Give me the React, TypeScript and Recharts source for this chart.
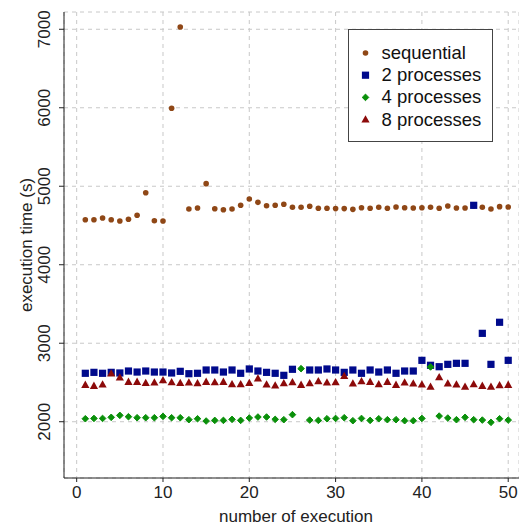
import React from "react";
import { ScatterChart, Scatter, XAxis, YAxis, CartesianGrid } from "recharts";

const runs = [
  1, 2, 3, 4, 5, 6, 7, 8, 9, 10, 11, 12, 13, 14, 15, 16, 17, 18, 19, 20, 21, 22, 23, 24, 25,
  26, 27, 28, 29, 30, 31, 32, 33, 34, 35, 36, 37, 38, 39, 40, 41, 42, 43, 44, 45, 46, 47, 48, 49, 50,
];

const sequential = [
  4574, 4574, 4596, 4574, 4557, 4579, 4630, 4918, 4561, 4557,
  5993, 7029, 4710, 4723, 5033, 4714, 4701, 4710, 4757, 4838,
  4795, 4752, 4757, 4770, 4732, 4732, 4745, 4719, 4719, 4715,
  4715, 4706, 4727, 4719, 4732, 4719, 4736, 4727, 4723, 4727,
  4732, 4719, 4749, 4723, 4723, 4750, 4732, 4710, 4740, 4736,
];

const twoProcesses = [
  2617, 2629, 2617, 2629, 2621, 2646, 2633, 2646, 2633, 2633,
  2621, 2642, 2612, 2617, 2659, 2659, 2633, 2659, 2617, 2672,
  2646, 2629, 2617, 2591, 2668, null, 2659, 2659, 2672, 2659,
  2629, 2659, 2617, 2659, 2633, 2659, 2617, 2646, 2646, 2782,
  2719, 2701, 2731, 2744, 2744, 4757, 3126, 2731, 3267, 2782,
];

const fourProcesses = [
  2038, 2042, 2042, 2056, 2081, 2064, 2051, 2051, 2051, 2068,
  2051, 2051, 2026, 2038, 2009, 2017, 2017, 2030, 2017, 2047,
  2060, 2060, 2030, 2026, 2090, 2676, 2021, 2017, 2038, 2042,
  2051, 2013, 2042, 2017, 2038, 2026, 2026, 2013, 2013, 2042,
  2698, 2072, 2047, 2026, 2056, 2026, 2021, 1992, 2038, 2021,
];

const eightProcesses = [
  2468, 2455, 2472, 2612, 2561, 2506, 2506, 2493, 2497, 2527,
  2502, 2493, 2497, 2489, 2506, 2502, 2506, 2476, 2476, 2493,
  2548, 2472, 2459, 2489, 2502, 2468, 2489, 2515, 2497, 2502,
  2582, 2485, 2515, 2506, 2476, 2506, 2468, 2497, 2485, 2472,
  2443, 2565, 2485, 2472, 2443, 2476, 2455, 2443, 2463, 2468,
];

const xTicks = [0, 10, 20, 30, 40, 50];
const yTicks = [2000, 3000, 4000, 5000, 6000, 7000];

const FONT = '"Liberation Sans", Arial, sans-serif';
const AXIS = "#222";

const COLORS = {
  seq: "#8f4716",
  two: "#000a8c",
  four: "#0a900a",
  eight: "#8c0a0a",
};

const toPoints = (vals: (number | null)[]) =>
  runs
    .map((x, i) => ({ x, y: vals[i] }))
    .filter((d) => d.y != null);

const Dot = ({ cx, cy }: any) => <circle cx={cx} cy={cy} r={2.8} fill={COLORS.seq} />;
const Sq = ({ cx, cy }: any) => (
  <rect x={cx - 3.6} y={cy - 3.6} width={7.2} height={7.2} fill={COLORS.two} />
);
const Dia = ({ cx, cy }: any) => (
  <path
    d={`M${cx},${cy - 3.3} L${cx + 3.3},${cy} L${cx},${cy + 3.3} L${cx - 3.3},${cy} Z`}
    fill={COLORS.four}
    stroke={COLORS.four}
    strokeWidth={1}
    strokeLinejoin="round"
  />
);
const Tri = ({ cx, cy }: any) => (
  <path
    d={`M${cx},${cy - 4.4} L${cx + 4.1},${cy + 2.9} L${cx - 4.1},${cy + 2.9} Z`}
    fill={COLORS.eight}
  />
);

const XTick = ({ x, payload }: any) => (
  <text x={x} y={498} textAnchor="middle" fontSize={17} fontFamily={FONT} fill={AXIS}>
    {payload.value}
  </text>
);

const YTick = ({ y, payload }: any) => (
  <text
    x={50}
    y={y}
    transform={`rotate(-90 50 ${y})`}
    textAnchor="middle"
    fontSize={17}
    fontFamily={FONT}
    fill={AXIS}
  >
    {payload.value}
  </text>
);

const YTitle = () => (
  <text
    x={32}
    y={245}
    transform="rotate(-90 32 245)"
    textAnchor="middle"
    fontSize={17}
    fontFamily={FONT}
    fill={AXIS}
  >
    execution time (s)
  </text>
);

const XTitle = () => (
  <text x={296} y={522} textAnchor="middle" fontSize={17} fontFamily={FONT} fill={AXIS}>
    number of execution
  </text>
);

const legendRows = [
  { name: "sequential", Marker: Dot },
  { name: "2 processes", Marker: Sq },
  { name: "4 processes", Marker: Dia },
  { name: "8 processes", Marker: Tri },
];

const LegendBox = () => (
  <div
    style={{
      position: "absolute",
      left: 348,
      top: 29,
      width: 143,
      height: 111,
      border: "1px solid #444",
      background: "#fff",
    }}
  >
    <svg width={143} height={111} style={{ display: "block" }}>
      {legendRows.map(({ name, Marker }, i) => {
        const cy = 23 + i * 22.2;
        return (
          <g key={name}>
            <Marker cx={16.5} cy={cy} />
            <text x={32.5} y={cy + 6} fontSize={18.5} fontFamily={FONT} fill="#111">
              {name}
            </text>
          </g>
        );
      })}
    </svg>
  </div>
);

export default function App() {
  return (
    <div style={{ position: "absolute", left: 0, top: 0, width: 519, height: 525, background: "#fff" }}>
      <ScatterChart
        width={519}
        height={525}
        margin={{ top: 12, right: 0, bottom: 0, left: 0 }}
      >
        <CartesianGrid stroke="#c8c8c8" strokeDasharray="4 4" />
        <XAxis
          dataKey="x"
          type="number"
          domain={[-1.47, 51.25]}
          ticks={xTicks}
          allowDataOverflow
          height={47}
          tickSize={4}
          tick={<XTick />}
          stroke={AXIS}
          label={{ value: "number of execution", content: XTitle }}
        />
        <XAxis
          xAxisId="top"
          orientation="top"
          type="number"
          domain={[-1.47, 51.25]}
          height={0}
          tick={false}
          tickLine={false}
          stroke={AXIS}
        />
        <YAxis
          dataKey="y"
          type="number"
          domain={[1283, 7220]}
          ticks={yTicks}
          allowDataOverflow
          width={64}
          tickSize={5}
          tick={<YTick />}
          stroke={AXIS}
          label={{ value: "execution time (s)", content: YTitle }}
        />
        <Scatter name="sequential" data={toPoints(sequential)} shape={<Dot />} isAnimationActive={false} />
        <Scatter name="2 processes" data={toPoints(twoProcesses)} shape={<Sq />} isAnimationActive={false} />
        <Scatter name="4 processes" data={toPoints(fourProcesses)} shape={<Dia />} isAnimationActive={false} />
        <Scatter name="8 processes" data={toPoints(eightProcesses)} shape={<Tri />} isAnimationActive={false} />
      </ScatterChart>
      <LegendBox />
    </div>
  );
}
